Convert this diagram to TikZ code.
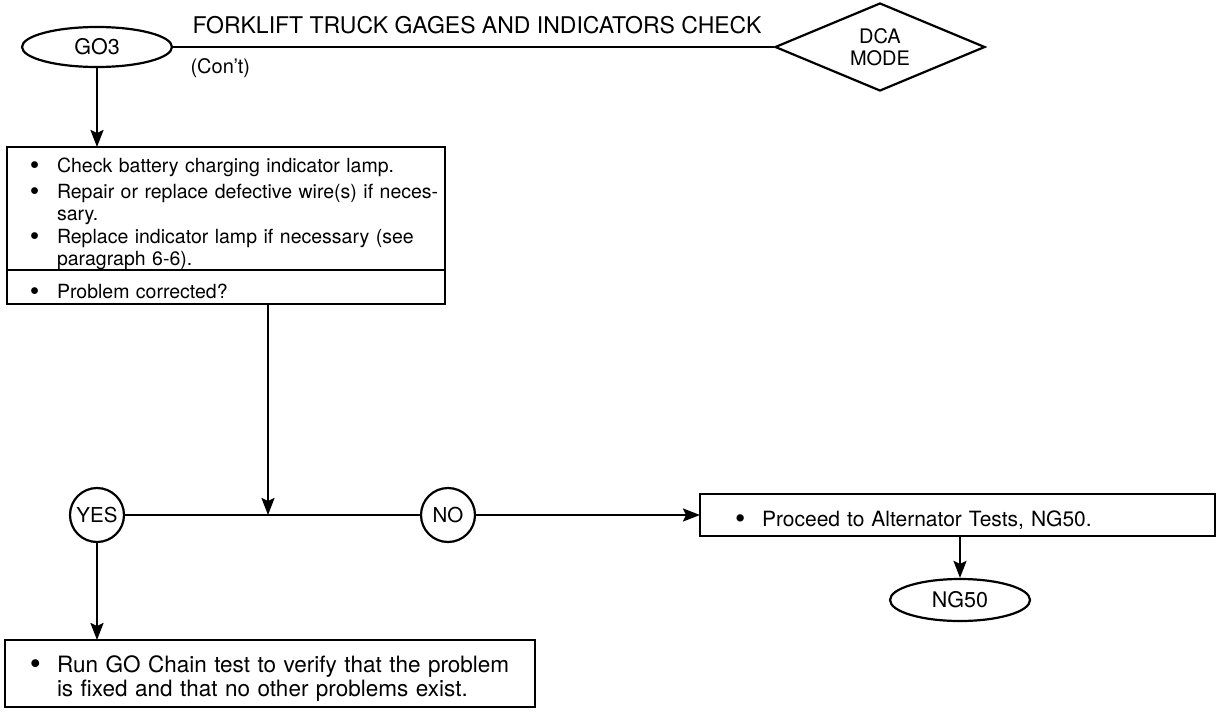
\documentclass[tikz,border=0pt]{standalone}
\usepackage{fontspec}
\setmainfont{TeX Gyre Heros}
\usepackage{graphicx}
\usetikzlibrary{arrows.meta, shapes.geometric, positioning}

\newlength{\bulletw}
\setlength{\bulletw}{27pt}
\newcommand{\bitem}[1]{\par\noindent\makebox[\bulletw][l]{\raisebox{-2pt}{\scalebox{1.4}{\textbullet}}}%
  \parbox[t]{\dimexpr\hsize-\leftskip-\rightskip-\bulletw\relax}{#1}\par}

\begin{document}
\begin{tikzpicture}[
  x=1pt, y=-1pt,
  every node/.style={font=\fontsize{20}{23}\selectfont},
  term/.style={draw, ellipse, line width=2.2pt, minimum width=150pt, minimum height=40pt,
               inner sep=0pt, font=\fontsize{21.5}{22}\selectfont},
  answer/.style={draw, circle, line width=2.2pt, minimum size=54pt, inner sep=0pt,
                 font=\fontsize{20.5}{21}\selectfont},
  mode/.style={draw, diamond, aspect=2.4, line width=2.2pt, minimum width=210pt,
               minimum height=88pt, inner sep=0pt, align=center,
               font=\fontsize{20}{22}\selectfont},
  stepbox/.style={draw, line width=2.2pt, inner xsep=0pt, inner ysep=0pt,
                  outer sep=0pt, text width=#1},
  boxtext/.style={execute at begin node={\leftskip=#1\rightskip=4pt\parskip=3pt}},
  arr/.style={-{Stealth[length=17pt, width=13pt, inset=3pt]}, line width=2.2pt},
  link/.style={line width=2.2pt}
]
  \useasboundingbox (0,0) rectangle (1217,725);

  % header
  \node[term] (go3) at (97,47) {GO3};
  \node[mode] (dca) at (880,47) {DCA\\MODE};
  \draw[link] (go3.east) -- (dca.west);
  \node[anchor=base west, font=\fontsize{23}{23}\selectfont] (title) at (189,34)
    {FORKLIFT TRUCK GAGES AND INDICATORS CHECK};
  \node[anchor=west] (cont) at (187,68) {(Con't)};

  % check box
  \node[stepbox=438pt, boxtext=23pt, anchor=north west, minimum height=121pt,
        font=\fontsize{19.5}{22.5}\selectfont] (lamp) at (7,147)
    {\bitem{Check battery charging indicator lamp.}
     \bitem{Repair or replace defective wire(s) if neces-\linebreak sary.}
     \bitem{Replace indicator lamp if necessary (see\linebreak paragraph 6-6).}};
  \node[stepbox=438pt, boxtext=23pt, minimum height=34pt, below=0pt of lamp,
        font=\fontsize{19.5}{22.5}\selectfont] (fixed)
    {\bitem{Problem corrected?}};
  \draw[arr] (go3.south) -- (go3.south |- lamp.north);

  % decision
  \node[answer] (yes) at (97,515) {YES};
  \node[answer] (no)  at (448,515) {NO};
  \coordinate (jn) at (268,515);
  \draw[link] (yes) -- (no);
  \draw[arr] (jn |- fixed.south) -- (jn);

  % no branch
  \node[stepbox=515pt, boxtext=35pt, anchor=west, minimum height=42pt,
        font=\fontsize{21}{23}\selectfont] (alt) at (700,515)
    {\bitem{Proceed to Alternator Tests, NG50.}};
  \draw[arr] (no) -- (alt);
  \node[term, minimum width=140pt, minimum height=42pt] (ng50) at (960,600) {NG50};
  \draw[arr] (ng50.north |- alt.south) -- (ng50.north);

  % yes branch
  \node[stepbox=530pt, boxtext=25pt, anchor=north west, minimum height=67pt,
        font=\fontsize{22.5}{24}\selectfont] (chain) at (5,640)
    {\bitem{Run GO Chain test to verify that the problem\newline
            is fixed and that no other problems exist.}};
  \draw[arr] (yes) -- (yes |- chain.north);
\end{tikzpicture}
\end{document}
